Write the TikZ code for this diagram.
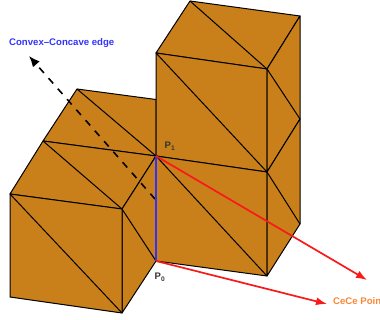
\documentclass[tikz,border=0pt]{standalone}
\usepackage{xcolor}
\usepackage{fontspec}
\setmainfont{Liberation Sans}
\usetikzlibrary{arrows.meta}
\definecolor{cubeorange}{RGB}{201,127,26}
\definecolor{edgeblue}{RGB}{50,50,250}
\definecolor{ceceorange}{RGB}{250,135,55}
\definecolor{cecered}{RGB}{250,25,25}
\tikzset{
  face/.style={draw=black,fill=cubeorange,line width=1pt,line join=round},
  mesh/.style={draw=black,line width=1pt},
  cecearrow/.style={cecered,line width=1.7pt,-{Latex[length=11pt,width=8pt]}},
  plabel/.style={font=\bfseries\fontsize{9.5}{11}\selectfont,text=black!80,inner sep=0pt}
}

\begin{document}
\begin{tikzpicture}[x=1pt,y=-1pt]
  \useasboundingbox (0,0) rectangle (380,320);
  % left block
  \coordinate (la) at (10,194); \coordinate (lb) at (122,209);
  \coordinate (lc) at (122,313); \coordinate (ld) at (10,297);
  \coordinate (le) at (43,141); \coordinate (lf) at (77,89);
  \coordinate (lg) at (156,99.5);
  % corner points
  \coordinate (P1) at (156,156); \coordinate (P0) at (156,261);
  % right column
  \coordinate (ra) at (156,53); \coordinate (rb) at (190,1);
  \coordinate (rc) at (300,16); \coordinate (rd) at (267,69);
  \coordinate (re) at (267,172); \coordinate (rf) at (267,276);
  \coordinate (rg) at (300,119); \coordinate (rh) at (300,224);
  % arrow ends
  \coordinate (dashstart) at (155,199); \coordinate (dashend) at (29,56);
  \coordinate (endone) at (367,280); \coordinate (endzero) at (327,304);

  \draw[face](le)--(lf)--(lg)--(P1)--cycle; \draw[mesh](lf)--(P1);
  \draw[face](la)--(le)--(P1)--(lb)--cycle; \draw[mesh](le)--(lb);
  \draw[face](lb)--(P1)--(P0)--(lc)--cycle; \draw[mesh](lb)--(P0);
  \draw[face](la)--(lb)--(lc)--(ld)--cycle; \draw[mesh](la)--(lc);

  \draw[face](ra)--(rb)--(rc)--(rd)--cycle; \draw[mesh](rb)--(rd);
  \draw[face](ra)--(rd)--(re)--(P1)--cycle; \draw[mesh](ra)--(re);
  \draw[face](P1)--(re)--(rf)--(P0)--cycle; \draw[mesh](P1)--(rf);
  \draw[face](rd)--(rc)--(rg)--(re)--cycle; \draw[mesh](rd)--(rg);
  \draw[face](re)--(rg)--(rh)--(rf)--cycle; \draw[mesh](re)--(rh);

  \draw[black,line width=1.6pt,dash pattern=on 7pt off 7pt,-{Latex[length=11pt,width=9pt]}](dashstart)--(dashend);
  \draw[edgeblue,line width=2.8pt](P0)--(P1);
  \draw[cecearrow](P1)--(endone);
  \draw[cecearrow](P0)--(endzero);

  \node[plabel,anchor=west] (lblone) at (164.5,146) {P$_{\mathbf 1}$};
  \node[plabel,anchor=west] (lblzero) at (154.5,277) {P$_{\mathbf 0}$};
  \node[font=\bfseries\fontsize{9.6}{11}\selectfont,text=edgeblue,anchor=west,inner sep=0pt] (lbledge) at (9,43) {Convex--Concave edge};
  \node[font=\bfseries\fontsize{9.6}{11}\selectfont,text=ceceorange,anchor=west,inner sep=0pt] (lblcece) at (333,301.5) {CeCe Point};
\end{tikzpicture}
\end{document}
